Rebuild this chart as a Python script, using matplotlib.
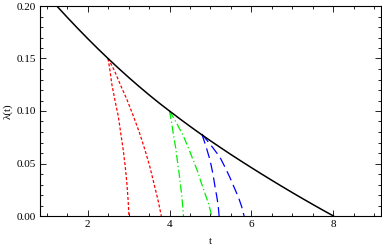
import matplotlib
matplotlib.use("Agg")
import matplotlib.pyplot as plt
from matplotlib.ticker import MultipleLocator

# main curve lambda(t)
t_main = [1.25, 1.5, 1.75, 2.0, 2.25, 2.5, 2.75, 3.0, 3.25, 3.5, 3.75, 4.0,
          4.25, 4.5, 4.75, 5.0, 5.25, 5.5, 5.75, 6.0, 6.25, 6.5, 6.75, 7.0,
          7.25, 7.5, 7.75, 8.0]
lam_main = [0.2000, 0.1894, 0.1791, 0.1691, 0.1594, 0.1500, 0.1409, 0.1321,
            0.1236, 0.1154, 0.1075, 0.1000, 0.0926, 0.0854, 0.0784, 0.0716,
            0.0650, 0.0585, 0.0522, 0.0460, 0.0399, 0.0339, 0.0280, 0.0222,
            0.0165, 0.0109, 0.0054, 0.0000]

# red branches from t~2.5
t_red1 = [2.50, 2.55, 2.59, 2.67, 2.75, 2.81, 2.87, 2.92, 2.96, 2.99, 3.01]
lam_red1 = [0.150, 0.138, 0.126, 0.110, 0.095, 0.079, 0.063, 0.047, 0.031,
            0.015, 0.000]
t_red2 = [2.50, 2.65, 2.79, 2.96, 3.12, 3.27, 3.40, 3.52, 3.62, 3.72, 3.80]
lam_red2 = [0.150, 0.139, 0.126, 0.111, 0.095, 0.079, 0.063, 0.047, 0.031,
            0.015, 0.000]

# green branches from t~4
t_green1 = [4.00, 4.05, 4.09, 4.15, 4.19, 4.23, 4.26, 4.30, 4.32, 4.34]
lam_green1 = [0.100, 0.089, 0.079, 0.065, 0.053, 0.042, 0.032, 0.019, 0.010,
              0.000]
t_green2 = [4.00, 4.18, 4.34, 4.47, 4.58, 4.69, 4.78, 4.87, 4.95, 5.03]
lam_green2 = [0.100, 0.088, 0.076, 0.064, 0.053, 0.042, 0.031, 0.021, 0.012,
              0.000]

# blue branches from t~4.8
t_blue1 = [4.79, 4.90, 4.99, 5.06, 5.11, 5.16, 5.19, 5.21]
lam_blue1 = [0.078, 0.065, 0.053, 0.040, 0.028, 0.017, 0.009, 0.000]
t_blue2 = [4.79, 5.02, 5.23, 5.36, 5.47, 5.58, 5.68, 5.76, 5.82]
lam_blue2 = [0.078, 0.067, 0.056, 0.046, 0.037, 0.027, 0.018, 0.009, 0.000]

plt.rcParams['font.family'] = ['Liberation Serif', 'DejaVu Serif']
plt.rcParams['font.size'] = 8

fig = plt.figure(figsize=(3.82, 2.50), dpi=100)
ax = fig.add_axes([40 / 382, 34 / 250, 341 / 382, 210 / 250])

ax.plot(t_red1, lam_red1, color='#ff0000', lw=0.9, dashes=(2.4, 1.6))
ax.plot(t_red2, lam_red2, color='#ff0000', lw=0.9, dashes=(2.4, 1.6))
ax.plot(t_green1, lam_green1, color='#00ee00', lw=0.9, dashes=(6.5, 2.2, 1, 2.2))
ax.plot(t_green2, lam_green2, color='#00ee00', lw=0.9, dashes=(6.5, 2.2, 1, 2.2))
ax.plot(t_blue1, lam_blue1, color='#0000ff', lw=0.9, dashes=(8, 4))
ax.plot(t_blue2, lam_blue2, color='#0000ff', lw=0.9, dashes=(8, 4))
ax.plot(t_main, lam_main, color='black', lw=1.1)

ax.set_xlim(0.84, 9.16)
ax.set_ylim(0, 0.2)
ax.xaxis.set_major_locator(MultipleLocator(2))
ax.xaxis.set_minor_locator(MultipleLocator(0.5))
ax.yaxis.set_major_locator(MultipleLocator(0.05))
ax.yaxis.set_minor_locator(MultipleLocator(0.01))
ax.yaxis.set_major_formatter(lambda v, p: f"{v:.2f}")
ax.tick_params(which='both', direction='in', top=True, right=True, width=0.6)
ax.tick_params(which='major', length=4, pad=3)
ax.tick_params(which='minor', length=2)
for s in ax.spines.values():
    s.set_linewidth(0.8)

ax.set_xlabel('t', labelpad=6)
ax.set_ylabel('λ(t)', labelpad=3)

fig.savefig('out.png', dpi=100)
